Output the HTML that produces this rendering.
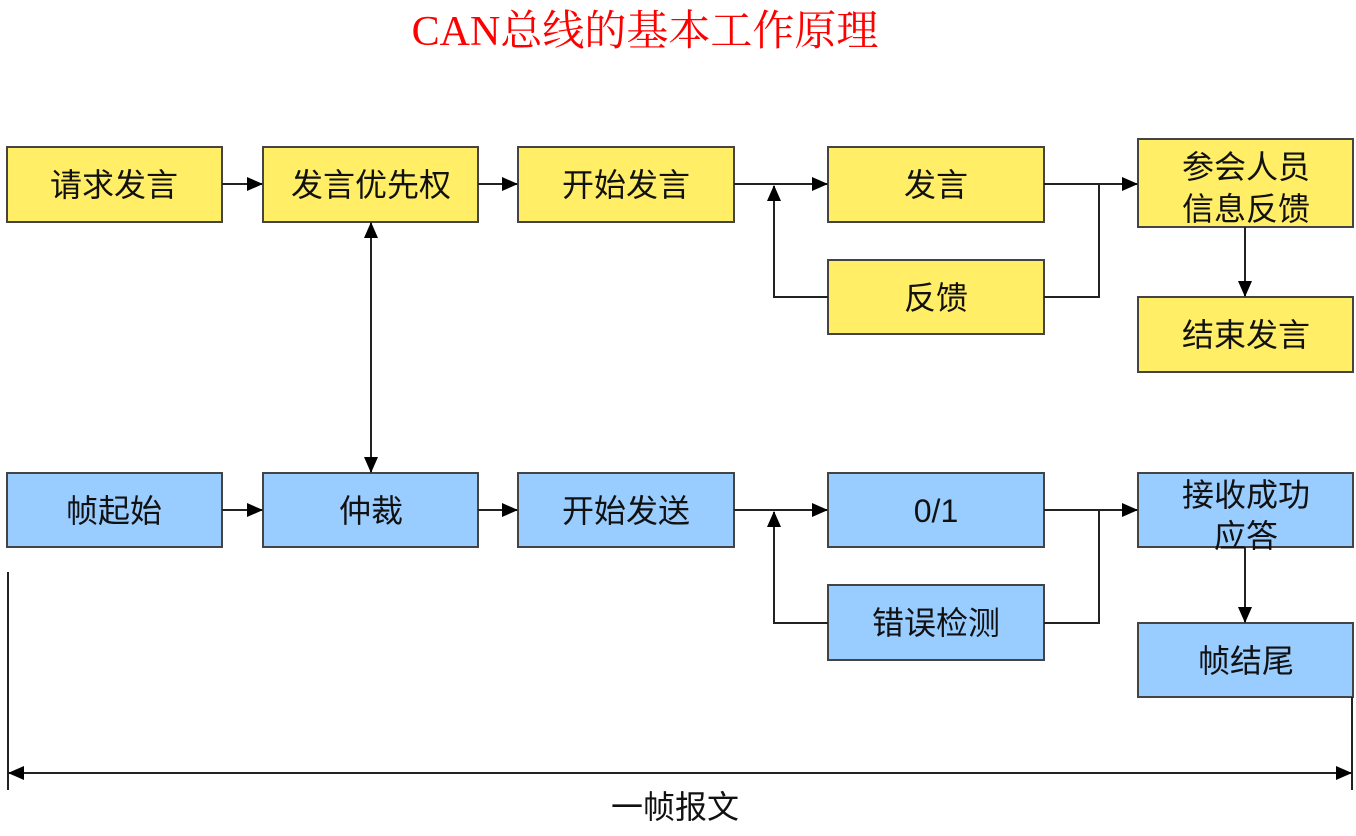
<!DOCTYPE html>
<html><head><meta charset="utf-8"><style>
body{margin:0;background:#fff;}
svg text{font-family:"Liberation Sans","Noto Sans CJK SC",sans-serif;font-size:32px;fill:#111;text-anchor:middle;}
</style></head><body>
<svg width="1356" height="831" viewBox="0 0 1356 831" xmlns="http://www.w3.org/2000/svg">
<defs><marker id="a" markerWidth="10" markerHeight="10" refX="9" refY="5" orient="auto" markerUnits="userSpaceOnUse"><path d="M0,0 L10,5 L0,10 z" fill="#000"/></marker>
<marker id="a2" markerWidth="16" markerHeight="14" refX="15" refY="7" orient="auto-start-reverse" markerUnits="userSpaceOnUse"><path d="M0,0 L16,7 L0,14 z" fill="#000"/></marker></defs>
<text x="645" y="45" style="font-family:'Liberation Serif','Noto Serif CJK SC',serif;font-size:42px;fill:#f00">CAN总线的基本工作原理</text>
<g stroke="#444" stroke-width="2" fill="#FFEE66">
<rect x="7" y="147" width="215" height="75"/><rect x="263" y="147" width="215" height="75"/><rect x="518" y="147" width="216" height="75"/>
<rect x="828" y="147" width="216" height="75"/><rect x="828" y="260" width="216" height="74"/>
<rect x="1138" y="139" width="215" height="88"/><rect x="1138" y="297" width="215" height="75"/>
</g>
<g stroke="#444" stroke-width="2" fill="#99CCFF">
<rect x="7" y="473" width="215" height="74"/><rect x="263" y="473" width="215" height="74"/><rect x="518" y="473" width="216" height="74"/>
<rect x="828" y="473" width="216" height="74"/><rect x="828" y="585" width="216" height="75"/>
<rect x="1138" y="473" width="215" height="74"/><rect x="1138" y="623" width="215" height="74"/>
</g>
<g stroke="#222" stroke-width="2" fill="none">
<line x1="222" y1="184" x2="262" y2="184" marker-end="url(#a2)"/>
<line x1="478" y1="184" x2="517" y2="184" marker-end="url(#a2)"/>
<line x1="734" y1="184" x2="827" y2="184" marker-end="url(#a2)"/>
<polyline points="828,297 774,297 774,186" marker-end="url(#a2)"/>
<line x1="1044" y1="184" x2="1137" y2="184" marker-end="url(#a2)"/>
<polyline points="1044,297 1099,297 1099,184"/>
<line x1="1245" y1="227" x2="1245" y2="296" marker-end="url(#a2)"/>
<line x1="371" y1="223" x2="371" y2="472" marker-start="url(#a2)" marker-end="url(#a2)"/>
<line x1="222" y1="510" x2="262" y2="510" marker-end="url(#a2)"/>
<line x1="478" y1="510" x2="517" y2="510" marker-end="url(#a2)"/>
<line x1="734" y1="510" x2="827" y2="510" marker-end="url(#a2)"/>
<polyline points="828,623 774,623 774,512" marker-end="url(#a2)"/>
<line x1="1044" y1="510" x2="1137" y2="510" marker-end="url(#a2)"/>
<polyline points="1044,623 1099,623 1099,510"/>
<line x1="1245" y1="547" x2="1245" y2="622" marker-end="url(#a2)"/>
<line x1="8" y1="572" x2="8" y2="790"/>
<line x1="1352" y1="697" x2="1352" y2="790"/>
<line x1="9" y1="773" x2="1351" y2="773" marker-start="url(#a2)" marker-end="url(#a2)"/>
</g>
<text x="114" y="196">请求发言</text><text x="371" y="196">发言优先权</text><text x="626" y="196">开始发言</text>
<text x="936" y="196">发言</text><text x="936" y="309">反馈</text>
<text x="1246" y="178">参会人员</text><text x="1246" y="220">信息反馈</text><text x="1246" y="346">结束发言</text>
<text x="114" y="522">帧起始</text><text x="371" y="522">仲裁</text><text x="626" y="522">开始发送</text>
<text x="936" y="522">0/1</text><text x="936" y="634">错误检测</text>
<text x="1246" y="506">接收成功</text><text x="1246" y="547">应答</text><text x="1246" y="672">帧结尾</text>
<text x="675" y="818">一帧报文</text>
</svg>
</body></html>
